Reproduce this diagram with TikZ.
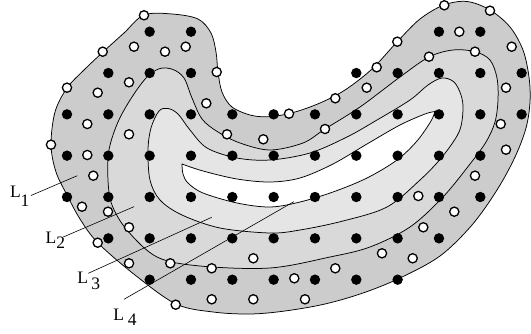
\documentclass[tikz,border=0pt]{standalone}
\usepackage{fontspec}
\setmainfont{Liberation Serif}
\definecolor{bandA}{gray}{0.80}
\definecolor{bandB}{gray}{0.85}
\definecolor{bandC}{gray}{0.90}
\begin{document}
\begin{tikzpicture}[x=1pt,y=-1pt,
  contour/.style={draw=black, line width=0.75pt},
  bdot/.style={fill=black},
  wdot/.style={fill=white, draw=black, line width=1.3pt},
  pointer/.style={draw=black, line width=0.6pt},
  lab/.style={inner sep=0pt, anchor=base west, font=\fontsize{17.5}{20}\selectfont}]
\useasboundingbox (0,0) rectangle (531,334);

% outer layer L1
\path[contour, fill=bandA] plot[smooth cycle, tension=0.55] coordinates {
 (144,15) (172,14) (198,19) (211,33) (216,52) (218,72) (222,92) (232,107)
 (252,115.5) (272,116.5) (295,112) (320,103) (345,90) (372,69) (397,42)
 (420,19) (444,5) (467,1.5) (490,10) (510,27) (523,50) (529,77) (530,102)
 (526,128) (515,157) (497,190) (472,225) (440,256) (400,278) (363,293)
 (325,304) (285,311) (250,314) (213,312) (176,304) (135,275) (98,243)
 (80,219) (67,195) (56,172) (51,145) (55,112) (67,88) (84,70) (103,52) (124,33)};

% layer L2
\path[contour, fill=bandB] plot[smooth cycle, tension=0.55] coordinates {
 (160,68.5) (173,69.5) (184,78) (192,98) (202,119) (218,132) (240,143)
 (270,150) (303,143) (325,129) (360,107) (400,77) (429,57) (453,50)
 (475,51.7) (490,60) (497,78) (498,100) (495,122) (486,142) (470,164)
 (443,197) (410,227) (370,247) (330,257) (270,268) (200,266) (157,257)
 (127,230) (112,205) (108,180) (109,150) (118,122) (132,97) (147,77)};

% layer L3
\path[contour, fill=bandC] plot[smooth cycle, tension=0.55] coordinates {
 (148,150) (151,128) (159,111) (168,108.5) (178,114) (190,130) (207,148)
 (237,158) (270,160) (310,153) (347,137) (377,120) (410,100) (428,85)
 (442,78) (454,82) (461,95) (463,110) (459,132) (442,157) (420,180)
 (387,207) (343,221) (300,230) (270,233) (220,228) (182,215) (160,200) (150,180)};

% inner hole L4
\path[contour, fill=white]
 plot[smooth, tension=0.55] coordinates {
  (182,164) (203,171) (237,179) (270,182) (300,178) (333,164) (367,144)
  (400,125) (425,114) (435,111.5)}
 -- plot[smooth, tension=0.55] coordinates {
  (435,111.5) (431,121) (417,141) (397,160) (367,178) (333,192) (300,202)
  (270,207) (237,203) (203,193) (188,183) (183,174) (182,164)}
 -- cycle;

% grid points (filled)
\foreach \j/\cols in {0/{2,3,9,10}, 1/{1,2,3,7,8,9,10,11},
  2/{0,1,2,3,4,5,6,7,8,9,10,11}, 3/{0,1,2,3,4,5,6,7,8,9,10},
  4/{0,1,2,3,4,5,6,7,8,9,10}, 5/{1,2,3,4,5,6,7,8,9}, 6/{2,3,4,5,6,7,8}}
  \foreach \i in \cols
    \fill[bdot] ({67+41.33*\i},{31.7+41.33*\j}) circle[radius=5.2pt];

% scattered points (open)
\foreach \p in {(144,15.3),(102.7,51.7),(134,46.7),(165,51.7),(185.7,46.7),
  (216.7,72),(129,82.3),(97.7,92.7),(67,87.7),(206.3,103.3),(87.3,124),
  (129,134.3),(51,144.7),(87.3,155),(227,134.3),(263.3,139.3),(325,129),
  (335.3,98.3),(366.7,87.7),(376.7,67.3),(397.3,41.7),(429,56.7),(444.3,5.3),
  (459.3,31.7),(475,51.7),(490,10.7),(511.7,46.7),(506,87.7),(500.7,124),
  (506,149.7),(289,113.7),(418.3,196),(475,175.7),(423.3,227.3),(454.3,211.7),
  (294.3,278.3),(335.3,268.3),(382,253.3),(412.7,258.3),(305,299.3),
  (93.3,175.7),(82,206.7),(108,211.7),(129,227.3),(97.7,242.7),(129,263.3),
  (170.3,263.3),(211.7,268.3),(253.3,258.3),(211.7,299.3),(253.3,299.3),
  (175.7,304.7)}
  \filldraw[wdot] \p circle[radius=4.6pt];

% layer labels and their pointers
\node[lab] (L1) at (9.8,197.3) {L\raisebox{-9.4pt}{1}};
\node[lab] (L2) at (45.5,243.3) {L\raisebox{-5pt}{2}};
\node[lab] (L3) at (77.1,283.3) {L\hspace{3.5pt}\raisebox{-6.7pt}{3}};
\node[lab] (L4) at (113.1,320) {L\hspace{4pt}\raisebox{-5.7pt}{4}};

\coordinate (p1a) at (31,195.5);   \coordinate (p1b) at (77.3,175.7);
\coordinate (p2a) at (63.3,237);   \coordinate (p2b) at (134,206.7);
\coordinate (p3a) at (88.3,273.3); \coordinate (p3b) at (211.7,217.3);
\coordinate (p4a) at (124,299.3);  \coordinate (p4b) at (293.8,201.7);
\draw[pointer] (p1a) -- (p1b);
\draw[pointer] (p2a) -- (p2b);
\draw[pointer] (p3a) -- (p3b);
\draw[pointer] (p4a) -- (p4b);
\end{tikzpicture}
\end{document}
